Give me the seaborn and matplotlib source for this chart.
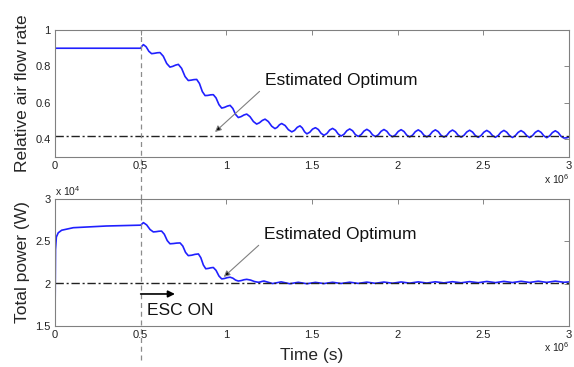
import matplotlib
matplotlib.use("Agg")
import matplotlib.pyplot as plt
import seaborn as sns
import pandas as pd
from matplotlib.ticker import FixedLocator, FuncFormatter

# time in units of 1e6 s
flow_t = [0, 0.500, 0.508,
          0.516, 0.532, 0.548, 0.564, 0.580, 0.597, 0.613, 0.632, 0.652, 0.671,
          0.687, 0.704, 0.720, 0.739, 0.759, 0.778, 0.794, 0.811, 0.827, 0.843,
          0.860, 0.876, 0.892, 0.908, 0.924, 0.940, 0.957, 0.973, 0.989, 1.006,
          1.022, 1.038, 1.054, 1.070, 1.086, 1.103, 1.119, 1.138, 1.158, 1.177,
          1.193, 1.210, 1.226, 1.245, 1.265, 1.284, 1.297, 1.310, 1.323, 1.343,
          1.362, 1.382, 1.398, 1.414, 1.430, 1.443, 1.457, 1.470, 1.487, 1.503,
          1.520, 1.537, 1.553, 1.570, 1.587, 1.603, 1.620, 1.637, 1.653, 1.670,
          1.687, 1.703, 1.720, 1.737, 1.753, 1.770, 1.787, 1.803, 1.820, 1.837,
          1.853, 1.870, 1.887, 1.903, 1.920, 1.937, 1.953, 1.970, 1.987, 2.003,
          2.020, 2.037, 2.053, 2.070, 2.087, 2.103, 2.120, 2.137, 2.153, 2.170,
          2.187, 2.203, 2.220, 2.237, 2.253, 2.270, 2.287, 2.303, 2.320, 2.337,
          2.353, 2.370, 2.387, 2.403, 2.420, 2.437, 2.453, 2.470, 2.487, 2.503,
          2.520, 2.537, 2.553, 2.570, 2.587, 2.603, 2.620, 2.637, 2.653, 2.670,
          2.687, 2.703, 2.720, 2.737, 2.753, 2.770, 2.787, 2.803, 2.820, 2.837,
          2.853, 2.870, 2.887, 2.903, 2.920, 2.937, 2.953, 2.970, 2.985, 3.000]
flow_y = [0.900, 0.900, 0.912,
          0.920, 0.908, 0.883, 0.870, 0.872, 0.875, 0.876, 0.856, 0.816, 0.796,
          0.800, 0.807, 0.811, 0.789, 0.744, 0.722, 0.724, 0.727, 0.728, 0.706,
          0.661, 0.639, 0.640, 0.643, 0.644, 0.626, 0.589, 0.570, 0.574, 0.581,
          0.585, 0.568, 0.535, 0.518, 0.523, 0.532, 0.537, 0.523, 0.496, 0.482,
          0.489, 0.502, 0.509, 0.496, 0.470, 0.457, 0.464, 0.478, 0.485, 0.474,
          0.451, 0.439, 0.447, 0.464, 0.472, 0.461, 0.439, 0.428, 0.437, 0.454,
          0.462, 0.452, 0.431, 0.420, 0.430, 0.449, 0.458, 0.448, 0.427, 0.416,
          0.426, 0.445, 0.455, 0.445, 0.424, 0.414, 0.424, 0.443, 0.453, 0.443,
          0.423, 0.413, 0.423, 0.442, 0.452, 0.442, 0.422, 0.412, 0.422, 0.441,
          0.451, 0.441, 0.421, 0.411, 0.421, 0.440, 0.450, 0.440, 0.421, 0.411,
          0.421, 0.440, 0.450, 0.440, 0.420, 0.410, 0.420, 0.439, 0.449, 0.439,
          0.420, 0.410, 0.420, 0.438, 0.448, 0.438, 0.419, 0.409, 0.419, 0.437,
          0.447, 0.437, 0.419, 0.409, 0.419, 0.437, 0.447, 0.437, 0.418, 0.408,
          0.418, 0.436, 0.446, 0.436, 0.418, 0.408, 0.418, 0.436, 0.446, 0.436,
          0.417, 0.407, 0.417, 0.435, 0.445, 0.435, 0.415, 0.405, 0.406, 0.410]
flow_opt = 0.415

# total power in units of 1e4 W
power_t = [0, 0.003, 0.008, 0.019, 0.039, 0.107, 0.300, 0.500, 0.508,
           0.516, 0.535, 0.555, 0.574, 0.590, 0.606, 0.622, 0.638, 0.655, 0.671,
           0.691, 0.710, 0.730, 0.746, 0.762, 0.778, 0.798, 0.817, 0.837, 0.851,
           0.866, 0.880, 0.895, 0.909, 0.924, 0.940, 0.957, 0.973, 0.989, 1.006,
           1.022, 1.038, 1.054, 1.070, 1.086, 1.103, 1.119, 1.142, 1.164, 1.187,
           1.198, 1.209, 1.220, 1.270, 1.320, 1.370, 1.420, 1.470, 1.520, 1.570,
           1.620, 1.670, 1.720, 1.770, 1.820, 1.870, 1.920, 1.970, 2.020, 2.070,
           2.120, 2.170, 2.220, 2.270, 2.320, 2.370, 2.420, 2.470, 2.520, 2.570,
           2.620, 2.670, 2.720, 2.770, 2.820, 2.870, 2.920, 2.970, 3.000]
power_y = [1.50, 2.40, 2.55, 2.60, 2.63, 2.66, 2.68, 2.69, 2.705,
           2.720, 2.693, 2.638, 2.610, 2.613, 2.618, 2.620, 2.583, 2.508, 2.470,
           2.473, 2.478, 2.480, 2.443, 2.368, 2.330, 2.335, 2.345, 2.350, 2.306,
           2.219, 2.175, 2.179, 2.186, 2.190, 2.156, 2.089, 2.055, 2.060, 2.070,
           2.075, 2.064, 2.041, 2.030, 2.035, 2.045, 2.050, 2.041, 2.024, 2.015,
           2.019, 2.026, 2.030, 2.000, 2.020, 1.998, 2.015, 1.998, 2.014, 2.000,
           2.015, 2.001, 2.016, 2.002, 2.017, 2.003, 2.018, 2.004, 2.019, 2.005,
           2.020, 2.006, 2.021, 2.008, 2.022, 2.009, 2.023, 2.010, 2.025, 2.011,
           2.026, 2.012, 2.027, 2.013, 2.028, 2.014, 2.029, 2.015, 2.020]
power_opt = 2.005

t_on = 0.5
x_ticks = [0, 0.5, 1, 1.5, 2, 2.5, 3]

sns.set_style("white")
plt.rcParams["font.family"] = ["Liberation Sans", "DejaVu Sans"]
plt.rcParams["mathtext.fontset"] = "custom"
plt.rcParams["mathtext.rm"] = "Liberation Sans"

fig = plt.figure(figsize=(5.74, 3.67), dpi=100)
ax1 = fig.add_axes([0.0958, 0.572, 0.8955, 0.346])
ax2 = fig.add_axes([0.0958, 0.112, 0.8955, 0.346])

flow = pd.DataFrame({"t": [v * 1e6 for v in flow_t], "y": flow_y})
power = pd.DataFrame({"t": [v * 1e6 for v in power_t], "y": [v * 1e4 for v in power_y]})

sns.lineplot(data=flow, x="t", y="y", ax=ax1, color="#2020ff", lw=1.2, sort=False, estimator=None)
sns.lineplot(data=power, x="t", y="y", ax=ax2, color="#2020ff", lw=1.2, sort=False, estimator=None)

for ax, opt in [(ax1, flow_opt), (ax2, power_opt * 1e4)]:
    opt_df = pd.DataFrame({"t": [0, 3e6], "y": [opt, opt]})
    sns.lineplot(data=opt_df, x="t", y="y", ax=ax, color="#222222", lw=1.0,
                 linestyle=(0, (6, 2, 1.5, 2)), estimator=None)

# ESC switch-on marker, runs across both panels
ax1.axvline(t_on * 1e6, ymin=-0.33, ymax=1, color="0.55", lw=0.9, ls=(0, (4, 3)), clip_on=False)
ax2.axvline(t_on * 1e6, ymin=-0.27, ymax=1, color="0.55", lw=0.9, ls=(0, (4, 3)), clip_on=False)

ax1.set_xlim(0, 3e6)
ax1.set_ylim(0.3, 1)
ax2.set_xlim(0, 3e6)
ax2.set_ylim(1.5e4, 3e4)

ax1.yaxis.set_major_locator(FixedLocator([0.4, 0.6, 0.8, 1.0]))
ax1.yaxis.set_major_formatter(FuncFormatter(lambda v, p: f"{v:g}"))
ax2.yaxis.set_major_locator(FixedLocator([1.5e4, 2e4, 2.5e4, 3e4]))
ax2.yaxis.set_major_formatter(FuncFormatter(lambda v, p: f"{v / 1e4:g}"))
for ax in (ax1, ax2):
    ax.xaxis.set_major_locator(FixedLocator([v * 1e6 for v in x_ticks]))
    ax.xaxis.set_major_formatter(FuncFormatter(lambda v, p: f"{v / 1e6:g}"))
    ax.tick_params(direction="in", length=3.5, width=0.6, color="0.45", labelsize=8,
                   labelcolor="#222222", top=True, right=True, pad=3)
    for s in ax.spines.values():
        s.set_color("0.5")
        s.set_linewidth(0.8)
    ax.set_xlabel("")
    ax.text(1.0, -0.17, "x 10$^6$", transform=ax.transAxes, ha="right", va="center",
            fontsize=7.5, color="#222222")

ax2.text(0.0, 1.06, "x 10$^4$", transform=ax2.transAxes, ha="left", va="center",
         fontsize=7.5, color="#222222")

ax1.set_ylabel("Relative air flow rate", fontsize=12.5, labelpad=4)
ax2.set_ylabel("Total power (W)", fontsize=12.5, labelpad=4)
ax2.set_xlabel("Time (s)", fontsize=12.5, labelpad=6)

arrow_kw = dict(arrowstyle="-|>", ec="0.5", fc="k", lw=0.8, mutation_scale=9)
ax1.annotate("Estimated Optimum", xy=(0.922e6, 0.428), xytext=(1.225e6, 0.722),
             fontsize=12.5, ha="left", va="center", color="#111111",
             arrowprops=dict(**arrow_kw, relpos=(0, 0.1)))
ax2.annotate("Estimated Optimum", xy=(0.973e6, 2.056e4), xytext=(1.22e6, 2.58e4),
             fontsize=12.5, ha="left", va="center", color="#111111",
             arrowprops=dict(**arrow_kw, relpos=(0, 0.1)))

ax2.annotate("", xy=(0.70e6, 1.877e4), xytext=(t_on * 1e6, 1.877e4),
             arrowprops=dict(arrowstyle="-|>", color="k", lw=1.2, mutation_scale=10,
                             shrinkA=0, shrinkB=0))
ax2.text(0.535e6, 1.68e4, "ESC ON", fontsize=12.5, ha="left", va="center", color="#111111")

fig.savefig("out.png", dpi=100)
